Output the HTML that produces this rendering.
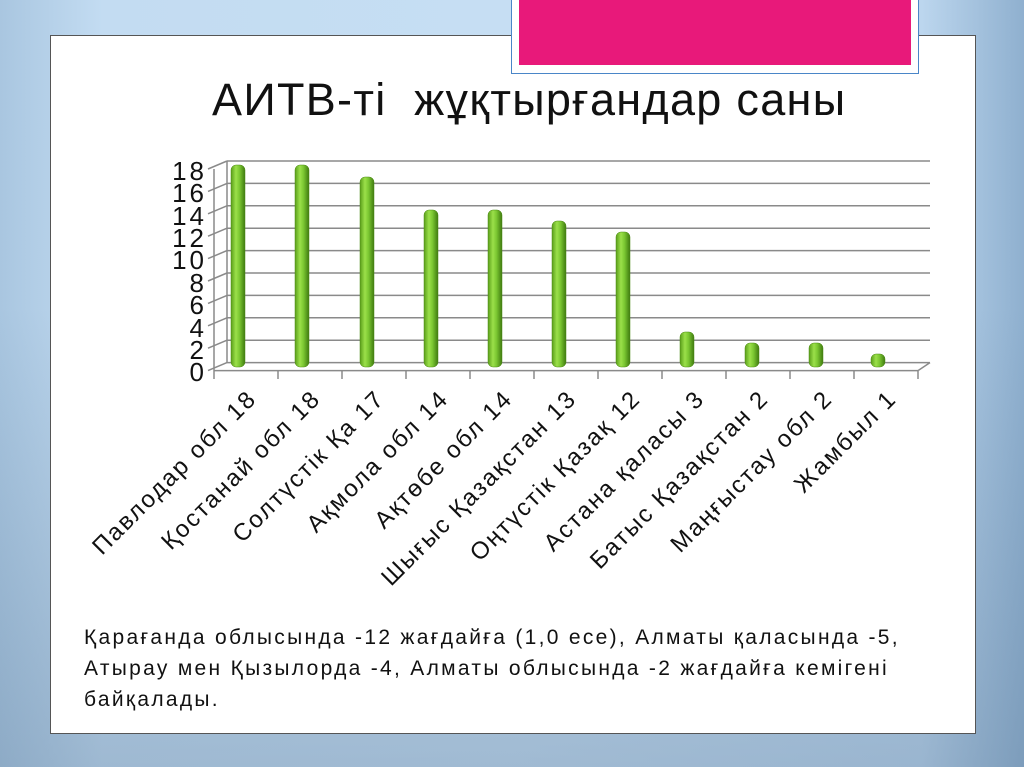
<!DOCTYPE html>
<html><head><meta charset="utf-8"><style>
html,body{margin:0;padding:0;}
body{width:1024px;height:767px;overflow:hidden;position:relative;background:linear-gradient(90deg,#a9c6e0 0%,#c3dcf2 10%,#c6def3 50%,#bcd6ee 90%,#8fb0cf 100%);font-family:"Liberation Sans","DejaVu Sans",sans-serif;}
.bgb{position:absolute;left:0;top:0;width:1024px;height:767px;background:linear-gradient(180deg,rgba(255,255,255,0) 0%,rgba(255,255,255,0) 40%,rgba(90,120,150,0.35) 100%);}
.panel{position:absolute;left:50px;top:35px;width:924px;height:697px;background:#fff;border:1px solid #555;}
.pinkout{position:absolute;left:511px;top:-2px;width:406px;height:74px;background:#fff;border:1px solid #4a86c8;}
.pink{position:absolute;left:519px;top:0;width:392px;height:65px;background:#e8197a;}
.title{position:absolute;left:212px;top:74px;font-size:45px;color:#111;letter-spacing:1.3px;white-space:nowrap;}
.txt{position:absolute;left:84px;top:622px;font-size:21px;letter-spacing:2.3px;line-height:31px;color:#111;width:840px;}
</style></head><body>
<div class="bgb"></div>
<div class="panel"></div>
<div class="pinkout"></div>
<div class="pink"></div>
<div class="title">АИТВ-ті &nbsp;жұқтырғандар саны</div>
<svg style="position:absolute;left:0;top:0" width="1024" height="767">
<defs><linearGradient id="g" x1="0" x2="1"><stop offset="0" stop-color="#5a9e1a"/><stop offset="0.35" stop-color="#9be04a"/><stop offset="0.6" stop-color="#7cc832"/><stop offset="1" stop-color="#3f7a10"/></linearGradient></defs>
<g stroke="#8a8a8a" stroke-width="1.5">
<line x1="227" y1="161" x2="930" y2="161"/><line x1="227" y1="183.4" x2="930" y2="183.4"/><line x1="227" y1="205.8" x2="930" y2="205.8"/><line x1="227" y1="228.2" x2="930" y2="228.2"/><line x1="227" y1="250.6" x2="930" y2="250.6"/><line x1="227" y1="273" x2="930" y2="273"/><line x1="227" y1="295.4" x2="930" y2="295.4"/><line x1="227" y1="317.8" x2="930" y2="317.8"/><line x1="227" y1="340.2" x2="930" y2="340.2"/><line x1="227" y1="362.6" x2="930" y2="362.6"/>
<line x1="227" y1="161" x2="227" y2="363"/>
<line x1="214" y1="169" x2="214" y2="371"/>
<line x1="214" y1="370.6" x2="918" y2="370.6"/><line x1="918" y1="370.6" x2="930" y2="362.6"/>
<line x1="208" y1="169" x2="227" y2="161"/><line x1="208" y1="191.4" x2="227" y2="183.4"/><line x1="208" y1="213.8" x2="227" y2="205.8"/><line x1="208" y1="236.2" x2="227" y2="228.2"/><line x1="208" y1="258.6" x2="227" y2="250.6"/><line x1="208" y1="281" x2="227" y2="273"/><line x1="208" y1="303.4" x2="227" y2="295.4"/><line x1="208" y1="325.8" x2="227" y2="317.8"/><line x1="208" y1="348.2" x2="227" y2="340.2"/><line x1="208" y1="370.6" x2="227" y2="362.6"/>
<line x1="214" y1="371" x2="214" y2="379"/><line x1="278" y1="371" x2="278" y2="379"/><line x1="342" y1="371" x2="342" y2="379"/><line x1="406" y1="371" x2="406" y2="379"/><line x1="470" y1="371" x2="470" y2="379"/><line x1="534" y1="371" x2="534" y2="379"/><line x1="598" y1="371" x2="598" y2="379"/><line x1="662" y1="371" x2="662" y2="379"/><line x1="726" y1="371" x2="726" y2="379"/><line x1="790" y1="371" x2="790" y2="379"/><line x1="854" y1="371" x2="854" y2="379"/><line x1="918" y1="371" x2="918" y2="379"/>
</g>
<g font-size="26" fill="#111" text-anchor="end" letter-spacing="3">
<text x="207" y="180">18</text><text x="207" y="202">16</text><text x="207" y="225">14</text><text x="207" y="247">12</text><text x="207" y="269">10</text><text x="207" y="292">8</text><text x="207" y="314">6</text><text x="207" y="337">4</text><text x="207" y="359">2</text><text x="207" y="381">0</text>
</g>
<g fill="url(#g)" stroke="#4d8a16" stroke-width="0.5">
<rect x="231" y="165" width="14" height="202" rx="5"/>
<rect x="295" y="165" width="14" height="202" rx="5"/>
<rect x="360" y="177" width="14" height="190" rx="5"/>
<rect x="424" y="210" width="14" height="157" rx="5"/>
<rect x="488" y="210" width="14" height="157" rx="5"/>
<rect x="552" y="221" width="14" height="146" rx="5"/>
<rect x="616" y="232" width="14" height="135" rx="5"/>
<rect x="680" y="332" width="14" height="35" rx="5"/>
<rect x="745" y="343" width="14" height="24" rx="5"/>
<rect x="809" y="343" width="14" height="24" rx="5"/>
<rect x="871" y="354" width="14" height="13" rx="5"/>
</g>
<g font-size="24" fill="#111" text-anchor="end" letter-spacing="2">
<text transform="translate(258,400) rotate(-45)">Павлодар обл 18</text>
<text transform="translate(322,400) rotate(-45)">Қостанай обл 18</text>
<text transform="translate(386,400) rotate(-45)">Солтүстік Қа 17</text>
<text transform="translate(450,400) rotate(-45)">Ақмола обл 14</text>
<text transform="translate(514,400) rotate(-45)">Ақтөбе обл 14</text>
<text transform="translate(578,400) rotate(-45)">Шығыс Қазақстан 13</text>
<text transform="translate(642,400) rotate(-45)">Оңтүстік Қазақ 12</text>
<text transform="translate(706,400) rotate(-45)">Астана қаласы 3</text>
<text transform="translate(770,400) rotate(-45)">Батыс Қазақстан  2</text>
<text transform="translate(834,400) rotate(-45)">Маңғыстау обл 2</text>
<text transform="translate(898,400) rotate(-45)">Жамбыл 1</text>
</g>
</svg>
<div class="txt">Қарағанда облысында -12 жағдайға (1,0 есе), Алматы қаласында -5, Атырау мен Қызылорда -4, Алматы облысында -2 жағдайға кемігені байқалады.</div>
</body></html>
